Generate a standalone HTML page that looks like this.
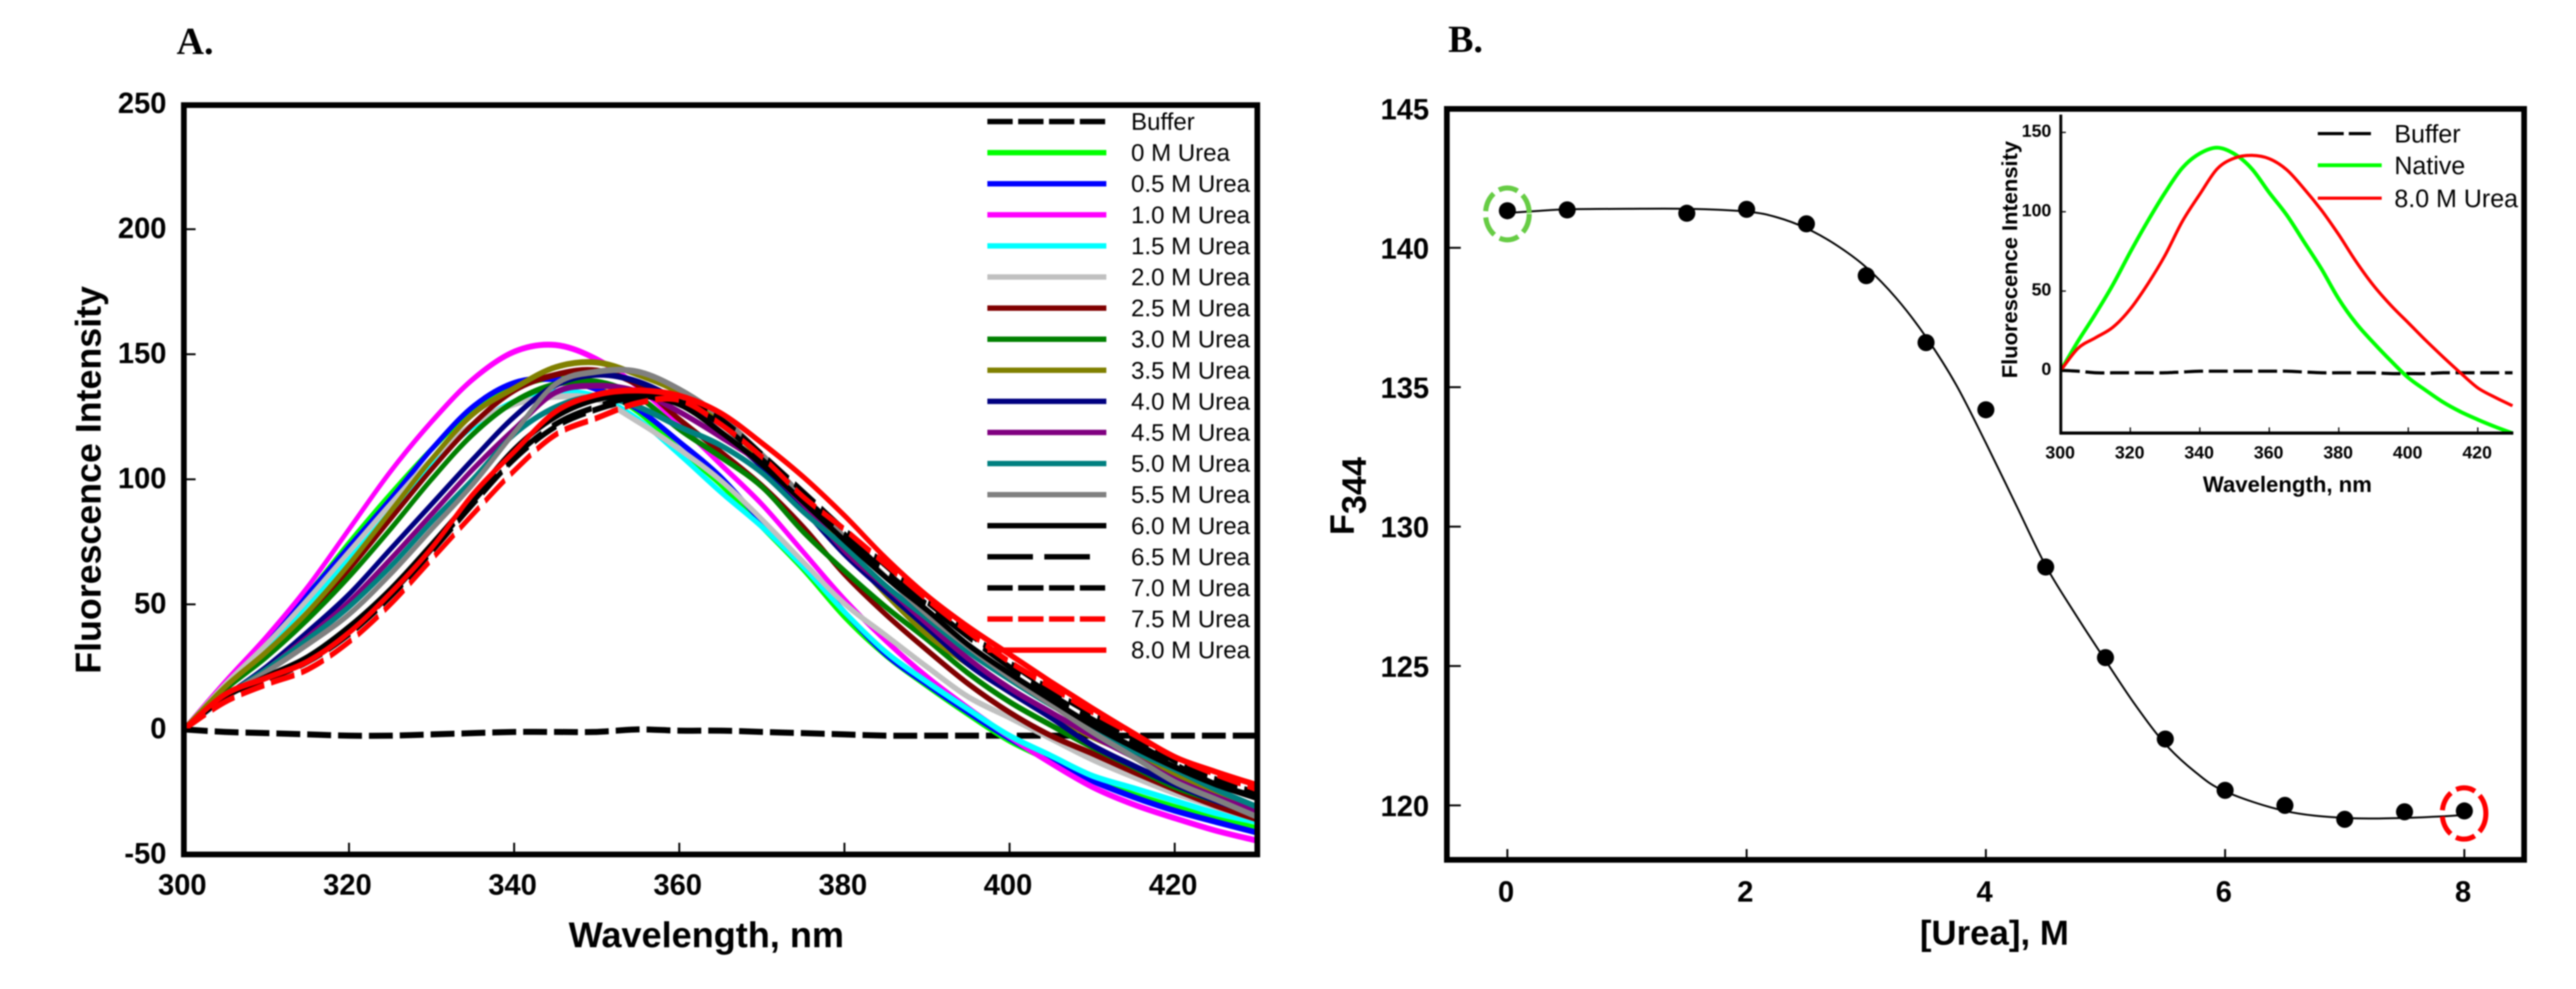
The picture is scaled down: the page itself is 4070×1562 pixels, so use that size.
<!DOCTYPE html>
<html lang="en">
<head>
<meta charset="utf-8">
<title>Urea denaturation fluorescence spectra</title>
<style>
html,body{margin:0;padding:0;background:#fff;width:4070px;height:1562px;overflow:hidden}
svg{display:block;filter:blur(1px)}
text{font-family:"Liberation Sans",sans-serif;fill:#000}
.b{font-weight:700}
.panel{font-family:"Liberation Serif",serif;font-weight:700;font-size:60px}
</style>
</head>
<body>
<svg id="fig" xmlns="http://www.w3.org/2000/svg" width="4070" height="1562" viewBox="0 0 4070 1562">
  <rect x="0" y="0" width="4070" height="1562" fill="#fff"/>
  <text class="panel" x="279" y="85">A.</text>
  <text class="panel" x="2288" y="82">B.</text>

  <g id="panelA">
    <text class="b" font-size="57" x="1116" y="1496" text-anchor="middle">Wavelength, nm</text>
    <text class="b" font-size="56.5" text-anchor="middle" transform="translate(159,758) rotate(-90)">Fluorescence Intensity</text>
  </g>

  <g id="panelB">
    <text class="b" font-size="55" x="3151" y="1492" text-anchor="middle">[Urea], M</text>
    <text class="b" font-size="54" transform="translate(2139,845) rotate(-90)">F<tspan dy="19">344</tspan></text>
  </g>

  <g id="inset">
    <text class="b" font-size="35" x="3614" y="777" text-anchor="middle">Wavelength, nm</text>
    <text class="b" font-size="34.6" text-anchor="middle" transform="translate(3187,410) rotate(-90)">Fluorescence Intensity</text>
  </g>
</svg>

<script>
// ---------- Panel A data ----------
const wavelengths = [300,305,310,315,320,325,330,335,340,345,350,355,360,365,370,375,380,385,390,395,400,405,410,415,420,425,430];
const xTicksA = [300,320,340,360,380,400,420];
const yTicksA = [-50,0,50,100,150,200,250];
const seriesLabels = ['Buffer','0 M Urea','0.5 M Urea','1.0 M Urea','1.5 M Urea','2.0 M Urea','2.5 M Urea','3.0 M Urea','3.5 M Urea','4.0 M Urea','4.5 M Urea','5.0 M Urea','5.5 M Urea','6.0 M Urea','6.5 M Urea','7.0 M Urea','7.5 M Urea','8.0 M Urea'];
const seriesColors = ['#000000','#00ff00','#0000ff','#ff00ff','#00ffff','#c0c0c0','#800000','#008000','#808000','#000080','#800080','#008080','#808080','#000000','#000000','#000000','#ff0000','#ff0000'];
const legendDash = ['40 8.7','','','','','','','','','','','','','','72 18','40 8.7','40 8.7',''];
const curveDash = ['58 17','','','','','','','','','','','','','','100 28','58 17','58 17',''];

const buffer = [0,-1,-1.5,-2,-2.5,-2.5,-2,-1.5,-1,-1,-1,0,-0.5,-0.5,-1,-1.5,-2,-2.5,-2.5,-2.5,-2.5,-2.5,-2.5,-2.5,-2.5,-2.5,-2.5];
const urea00 = [0,18.5,35.7,54,74.6,94,112,127.7,136.7,140.4,136.4,127,112,98,81,64,45,29.6,17.4,6,-4.6,-12.5,-20,-26,-31,-35.5,-39.6];
const urea05 = [0,17,35,54,73,92,112,129,138.5,140,136,128,115,101,83,66,47,30,18,6.8,-3.7,-12.5,-20.5,-27,-32.5,-37,-41.3];
const urea10 = [0,19,37,57,80,103,123,140,151,153.7,148,137,122,106,90,71,52,35.5,21,8.5,-3,-13.5,-23,-30,-35.5,-40.5,-44.5];
const urea15 = [0,17,33,50,68,87,106,121,131,135,133,124,110,95,81,65,47,31,19,8,-2.5,-10.5,-18.5,-23.5,-28.5,-33.5,-37];
const urea20 = [0,18,34,52,71,90,108,122,130,133,132,123,112,99.6,84,67,50.3,37.6,25,13,4.7,-3.7,-12,-19,-25.5,-31,-36];
const urea25 = [0,16,30,46,64,84,104,122,135.5,141.8,143.5,137.6,124,111,97.5,81,62,46,31.7,18.2,6.8,-2.5,-9.6,-17,-24,-30.5,-36];
const urea30 = [0,16,29,44,61,80,100,118,131,138,139,133,120,109,97,79,63.4,49,36,22.4,11,1.7,-7.1,-15,-23,-28.5,-33];
const urea35 = [0,17,31,47,66,87,108,126,136.4,144.8,146.7,141.8,134.7,123,108,90,72,54,38,26,15,6,-3,-10,-18,-26,-33];
const urea40 = [0,13,25,39,54,72,90,108,125,137.6,141.8,139,131,119,105,88,70,55,40.6,26,15,4.7,-6.3,-14.5,-22,-28.5,-34];
const urea45 = [0,13,24,37,51,68,86,104,120,134.7,137.4,135,127,117,106,90,71.4,57,42.3,28.3,16.5,6.8,-2.5,-11,-20,-27,-33];
const urea50 = [0,13,24,36,49,65,83,100,118,128.8,133,129,121,113.6,102.6,87,73,57.5,44.4,31,20,9.8,0.5,-8.5,-16,-24,-31];
const urea55 = [0,13,23,34,46,62,80,98,118.6,138,143,143,136,125,110,93,77,61,46,33,21,10,-1,-11,-21,-28,-35];
const urea60 = [0,13,21,29,41,56,74,93,112,125,132,133.5,130,119,106,91,75.6,60.8,47.7,33.8,22.4,11.9,1.7,-7,-15,-22,-27.5];
const urea65 = [0,13,21,28,39,54,72,91,109,122,129,133,131,122,108,93,78,63,50,37,25,14,4,-5,-14,-22,-27];
const urea70 = [0,13,20,27,38,53,71,90,108,121,128,132,132,124,110,95,79.8,65.5,51,38.5,26.6,15.7,6,-3,-12.5,-20,-25.5];
const urea75 = [0,11,18,24,35,50,68,86,103.4,117.8,124.5,130.5,131.7,122,109,93,80,66,52,39,27,17,7,-2,-11,-18,-24];
const urea80 = [0,14,20.6,27.2,38.7,54.4,72.5,94,111,127,133.8,135.5,133.4,126.5,114.5,101,85.5,68.5,53.5,41,30,19,8.5,-1.5,-11,-17,-22.3];
const spectra = [buffer,urea00,urea05,urea10,urea15,urea20,urea25,urea30,urea35,urea40,urea45,urea50,urea55,urea60,urea65,urea70,urea75,urea80];

// ---------- Panel B data ----------
const ureaConc = [0,0.5,1.5,2,2.5,3,3.5,4,4.5,5,5.5,6,6.5,7,7.5,8];
const f344 = [141.33,141.36,141.24,141.38,140.86,139.0,136.6,134.19,128.55,125.3,122.38,120.54,120.0,119.5,119.77,119.8];
const fitConc = [0,0.25,0.5,1,1.5,2,2.25,2.5,2.75,3,3.25,3.5,3.75,4,4.25,4.5,4.75,5,5.25,5.5,5.75,6,6.5,7,7.5,8];
const fitF344 = [141.25,141.32,141.38,141.4,141.4,141.3,141.1,140.7,140.1,139.3,138.2,136.8,135.1,133.0,130.8,128.6,126.85,125.2,123.6,122.2,121.2,120.5,119.8,119.55,119.55,119.65];
const xTicksB = [0,2,4,6,8];
const yTicksB = [120,125,130,135,140,145];

// ---------- Inset data ----------
const insetBuffer = [0,-0.5,-1.5,-1.5,-1.5,-1.5,-1.5,-1,-0.5,-0.5,-0.5,-0.5,-0.5,-0.5,-1,-1.5,-1.5,-1.5,-1.5,-2,-2,-2,-1.5,-1.5,-1.5,-1.5,-1.5];
const insetLabels = ['Buffer','Native','8.0 M Urea'];
const insetTicksX = [300,320,340,360,380,400,420];
const insetTicksY = [0,50,100,150];

// ---------- scales ----------
const SVGNS = 'http://www.w3.org/2000/svg';
const STROKE_SX = 0.65;
const xA = v => 290.5 + (v - 300) * 13.046;
const xAraw = v => xA(v) / STROKE_SX;
const yA = v => 1152 - v * 3.95;
const xB = v => 2381.6 + v * 189;
const yB = v => 1272 - (v - 120) * 44.03;
const xI = v => 3256 + (v - 300) * 5.49;
const yI = v => 585 - v * 2.506;

function make(parent, tag, attrs, txt) {
  const el = document.createElementNS(SVGNS, tag);
  for (const k in attrs) el.setAttribute(k, attrs[k]);
  if (txt !== undefined) el.textContent = txt;
  parent.appendChild(el);
  return el;
}
function smooth(xs, ys, fx, fy) {
  const p = xs.map((x, i) => [fx(x), fy(ys[i])]);
  let d = 'M' + p[0][0].toFixed(1) + ' ' + p[0][1].toFixed(1);
  for (let i = 0; i < p.length - 1; i++) {
    const a = p[Math.max(i - 1, 0)], b = p[i], c = p[i + 1], e = p[Math.min(i + 2, p.length - 1)];
    const c1x = b[0] + (c[0] - a[0]) / 6, c1y = b[1] + (c[1] - a[1]) / 6;
    const c2x = c[0] - (e[0] - b[0]) / 6, c2y = c[1] - (e[1] - b[1]) / 6;
    d += 'C' + c1x.toFixed(1) + ' ' + c1y.toFixed(1) + ' ' + c2x.toFixed(1) + ' ' + c2y.toFixed(1) + ' ' + c[0].toFixed(1) + ' ' + c[1].toFixed(1);
  }
  return d;
}

// ---------- Panel A ----------
const gA = document.getElementById('panelA');
spectra.forEach((vals, i) => {
  const path = make(gA, 'path', {d: smooth(wavelengths, vals, xAraw, yA), transform: 'scale(' + STROKE_SX + ' 1)', fill: 'none', stroke: seriesColors[i], 'stroke-width': 9.5, 'stroke-dasharray': curveDash[i]});
  
  
});
const frameA = make(gA, 'rect', {x: 290.5, y: 166, width: 1696, height: 1183.5, fill: 'none', stroke: '#000', 'stroke-width': 9});


xTicksA.forEach(v => {
  if (v > 300) {
    const t = make(gA, 'line', {x1: xA(v), x2: xA(v), y1: 1349, y2: 1331, stroke: '#000', 'stroke-width': 3});
    
    
  }
  const l = make(gA, 'text', {x: xA(v) - 2.5, y: 1413, 'text-anchor': 'middle', 'font-size': 46, 'font-weight': 700}, String(v));
  
  
});
yTicksA.forEach(v => {
  if (v > -50 && v < 250) {
    const t = make(gA, 'line', {x1: 292, x2: 309, y1: yA(v), y2: yA(v), stroke: '#000', 'stroke-width': 3});
    
    
  }
  const l = make(gA, 'text', {x: 263, y: yA(v) + 14, 'text-anchor': 'end', 'font-size': 46, 'font-weight': 700}, String(v));
  
  
});
seriesLabels.forEach((name, i) => {
  const ly = 192 + i * 49.1;
  const entry = make(gA, 'g', {});
  
  
  const swatch = make(entry, 'line', {x1: 1560, x2: legendDash[i] === '72 18' ? 1722 : 1748, y1: ly, y2: ly, stroke: seriesColors[i], 'stroke-width': 8.5, 'stroke-dasharray': legendDash[i]});
  
  
  const label = make(entry, 'text', {x: 1787, y: ly + 13, 'font-size': 38, fill: '#222'}, name);
  
  
});

// ---------- Panel B ----------
const gB = document.getElementById('panelB');
const frameB = make(gB, 'rect', {x: 2286, y: 172, width: 1702, height: 1186, fill: 'none', stroke: '#000', 'stroke-width': 9});


xTicksB.forEach(v => {
  const t = make(gB, 'line', {x1: xB(v), x2: xB(v), y1: 1358, y2: 1341, stroke: '#000', 'stroke-width': 3});
  
  
  const l = make(gB, 'text', {x: xB(v) - 2, y: 1424, 'text-anchor': 'middle', 'font-size': 46, 'font-weight': 700}, String(v));
  
  
});
yTicksB.forEach(v => {
  if (v < 145) {
    const t = make(gB, 'line', {x1: 2286, x2: 2308, y1: yB(v), y2: yB(v), stroke: '#000', 'stroke-width': 3});
    
    
  }
  const l = make(gB, 'text', {x: 2258, y: yB(v) + 17, 'text-anchor': 'end', 'font-size': 46, 'font-weight': 700}, String(v));
  
  
});
const fit = make(gB, 'path', {d: smooth(fitConc, fitF344, xB, yB), fill: 'none', stroke: '#000', 'stroke-width': 3});


ureaConc.forEach((c, i) => {
  const dot = make(gB, 'circle', {cx: xB(c), cy: yB(f344[i]), r: 13.5, fill: '#000'});
  
  
});
const ringNative = make(gB, 'ellipse', {cx: xB(ureaConc[0]), cy: yB(f344[0]) + 5, rx: 34.5, ry: 41, fill: 'none', stroke: '#66cc44', 'stroke-width': 8, 'stroke-dasharray': '31 10'});


const ringUrea = make(gB, 'ellipse', {cx: xB(ureaConc[15]) - 0.5, cy: yB(f344[15]) + 4, rx: 34.5, ry: 40.5, fill: 'none', stroke: '#ff0000', 'stroke-width': 8, 'stroke-dasharray': '31 10'});



// ---------- Inset ----------
const gI = document.getElementById('inset');
const insetSeries = [insetBuffer, urea00, urea80];
const insetColors = ['#000000', '#00ff00', '#ff0000'];
const insetWidths = [5, 6, 5];
const insetDash = ['30 9', '', ''];
insetSeries.forEach((vals, i) => {
  const path = make(gI, 'path', {d: smooth(wavelengths, vals, xI, yI), fill: 'none', stroke: insetColors[i], 'stroke-width': insetWidths[i], 'stroke-dasharray': insetDash[i]});
  
  
});
const axisLeft = make(gI, 'line', {x1: 3256, x2: 3256, y1: 181, y2: 686, stroke: '#000', 'stroke-width': 4.5});


const axisBottom = make(gI, 'line', {x1: 3254, x2: 3971, y1: 684, y2: 684, stroke: '#000', 'stroke-width': 5});


insetTicksX.forEach(v => {
  if (v > 300) {
    const t = make(gI, 'line', {x1: xI(v), x2: xI(v), y1: 684, y2: 675, stroke: '#000', 'stroke-width': 2});
    
    
  }
  const l = make(gI, 'text', {x: xI(v) - 1, y: 724, 'text-anchor': 'middle', 'font-size': 28, 'font-weight': 700}, String(v));
  
  
});
insetTicksY.forEach(v => {
  const t = make(gI, 'line', {x1: 3256, x2: 3264, y1: yI(v), y2: yI(v), stroke: '#000', 'stroke-width': 2});
  
  
  const l = make(gI, 'text', {x: 3241, y: yI(v) + 7, 'text-anchor': 'end', 'font-size': 28, 'font-weight': 700}, String(v));
  
  
});
insetLabels.forEach((name, i) => {
  const ly = [211, 261, 313][i];
  const entry = make(gI, 'g', {});
  
  
  const swatch = make(entry, 'line', {x1: 3662, x2: i === 0 ? 3746 : 3763, y1: ly, y2: ly, stroke: insetColors[i], 'stroke-width': insetWidths[i], 'stroke-dasharray': i === 0 ? '41 8' : ''});
  
  
  const label = make(entry, 'text', {x: 3783, y: ly + 14, 'font-size': 39.5, fill: '#222'}, name);
  
  
});
</script>
</body>
</html>
